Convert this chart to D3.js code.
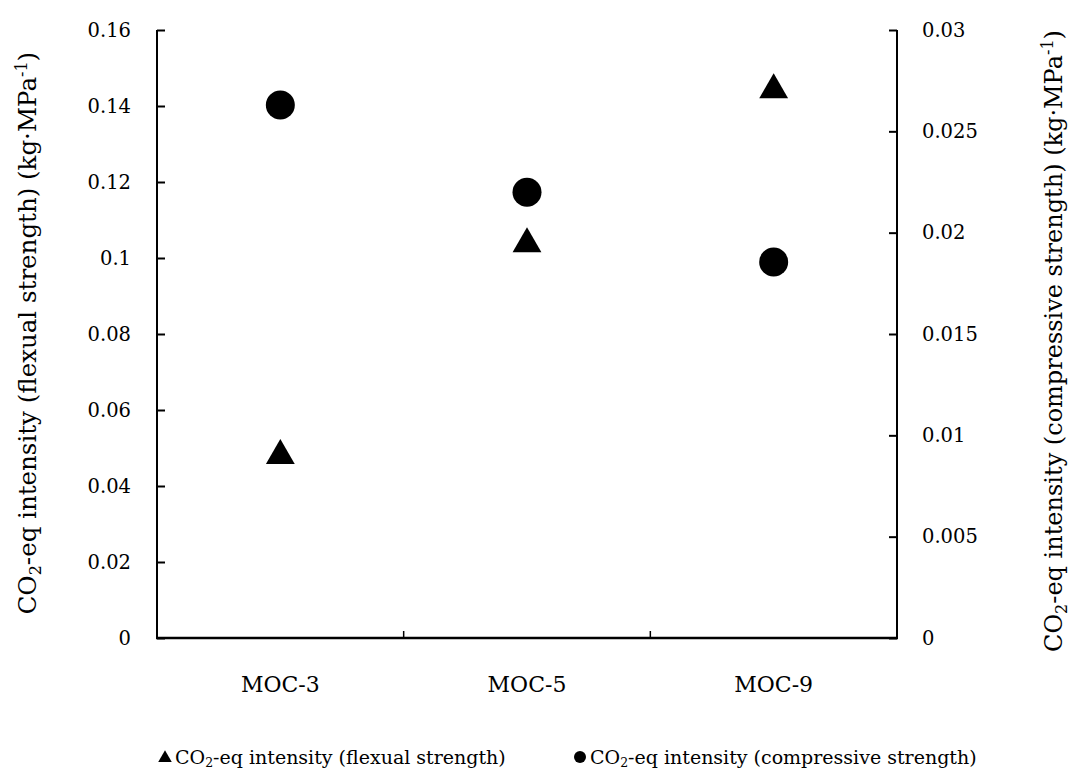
<!DOCTYPE html>
<html>
<head>
<meta charset="utf-8">
<script src="https://cdn.jsdelivr.net/npm/d3@7"></script>
<style>
  html, body { margin: 0; padding: 0; background: #fff; }
  text { font-family: "DejaVu Serif", "Liberation Serif", serif; fill: #000; }
</style>
</head>
<body>
<svg id="chart" width="1070" height="772"></svg>
<script>
// Mix designs on the x axis
const categories = ["MOC-3", "MOC-5", "MOC-9"];
// CO2-eq intensity per unit flexural strength (left axis)
const flexural = [0.0488, 0.1045, 0.145];
// CO2-eq intensity per unit compressive strength (right axis)
const compressive = [0.0263, 0.0220, 0.01855];
// Axis ticks
const leftTicks = [0, 0.02, 0.04, 0.06, 0.08, 0.1, 0.12, 0.14, 0.16];
const rightTicks = [0, 0.005, 0.01, 0.015, 0.02, 0.025, 0.03];

const svg = d3.select("#chart");
const m = { left: 157, right: 897, top: 30, bottom: 638 };
const tickFont = 19.5;

const x = d3.scaleBand().domain(categories).range([m.left, m.right]).paddingInner(0).paddingOuter(0);
const yL = d3.scaleLinear().domain([0, 0.16]).range([m.bottom, m.top]);
const yR = d3.scaleLinear().domain([0, 0.03]).range([m.bottom, m.top]);
const cx = d => x(d) + x.bandwidth() / 2;
const fmt = d => String(+d.toFixed(3));

// Left axis: ticks pointing into the plot
const gL = svg.append("g").attr("transform", `translate(${m.left},0)`)
  .call(d3.axisRight(yL).tickValues(leftTicks).tickSize(8).tickPadding(0).tickFormat(fmt));
gL.select(".domain").remove();
gL.selectAll(".tick line").attr("stroke", "#000").attr("stroke-width", 2);
gL.selectAll(".tick text").attr("x", -26).attr("text-anchor", "end")
  .style("font-size", tickFont + "px").style("font-family", "DejaVu Serif");

// Right axis: ticks pointing into the plot
const gR = svg.append("g").attr("transform", `translate(${m.right},0)`)
  .call(d3.axisLeft(yR).tickValues(rightTicks).tickSize(8).tickPadding(0).tickFormat(fmt));
gR.select(".domain").remove();
gR.selectAll(".tick line").attr("stroke", "#000").attr("stroke-width", 2);
gR.selectAll(".tick text").attr("x", 25).attr("text-anchor", "start")
  .style("font-size", tickFont + "px").style("font-family", "DejaVu Serif");

// Bottom axis: category boundaries marked with short inward ticks
const bounds = categories.slice(1).map(c => x(c));
svg.append("g").selectAll("line").data(bounds).join("line")
  .attr("x1", d => d).attr("x2", d => d)
  .attr("y1", m.bottom).attr("y2", m.bottom - 7)
  .attr("stroke", "#000").attr("stroke-width", 1.5);
svg.append("g").selectAll("text").data(categories).join("text")
  .attr("x", d => cx(d)).attr("y", 692)
  .attr("text-anchor", "middle").style("font-size", "22px").text(d => d);

// Axis lines
svg.append("line").attr("x1", m.left).attr("x2", m.left).attr("y1", m.top).attr("y2", m.bottom + 1)
  .attr("stroke", "#000").attr("stroke-width", 2);
svg.append("line").attr("x1", m.right).attr("x2", m.right).attr("y1", m.top).attr("y2", m.bottom + 1)
  .attr("stroke", "#000").attr("stroke-width", 2);
svg.append("line").attr("x1", m.left - 1).attr("x2", m.right + 1).attr("y1", m.bottom).attr("y2", m.bottom)
  .attr("stroke", "#000").attr("stroke-width", 2.5);

// Markers
const tri = d3.symbol().type(d3.symbolTriangle).size(360);
svg.append("g").selectAll("path").data(categories).join("path")
  .attr("d", tri)
  .attr("transform", (d, i) => `translate(${cx(d)},${yL(flexural[i]) + 3})`)
  .attr("fill", "#000");
svg.append("g").selectAll("circle").data(categories).join("circle")
  .attr("cx", d => cx(d)).attr("cy", (d, i) => yR(compressive[i]))
  .attr("r", 14.5).attr("fill", "#000");

// Axis titles with subscript/superscript
function title(g, main, size) {
  const t = g.append("text").attr("text-anchor", "middle").style("font-size", size + "px");
  t.append("tspan").text("CO");
  t.append("tspan").attr("dy", 5).style("font-size", "16px").text("2");
  t.append("tspan").attr("dy", -5).text(`-eq intensity (${main}) (kg·MPa`);
  t.append("tspan").attr("dy", -9).style("font-size", "16px").text("-1");
  t.append("tspan").attr("dy", 9).text(")");
  return t;
}
title(svg.append("g").attr("transform", "translate(36,333) rotate(-90)"), "flexual strength", 24.5);
title(svg.append("g").attr("transform", "translate(1062,341) rotate(-90)"), "compressive strength", 24);

// Legend
const legend = [
  { shape: "triangle", label: "flexual strength", x: 165 },
  { shape: "circle", label: "compressive strength", x: 580 }
];
const lg = svg.append("g");
legend.forEach(l => {
  if (l.shape === "triangle") {
    lg.append("path").attr("d", d3.symbol().type(d3.symbolTriangle).size(80)())
      .attr("transform", `translate(${l.x},758)`).attr("fill", "#000");
  } else {
    lg.append("circle").attr("cx", l.x).attr("cy", 757).attr("r", 6).attr("fill", "#000");
  }
  const t = lg.append("text").attr("x", l.x + 10).attr("y", 764).style("font-size", "19px");
  t.append("tspan").text("CO");
  t.append("tspan").attr("dy", 3).style("font-size", "12.5px").text("2");
  t.append("tspan").attr("dy", -3).text(`-eq intensity (${l.label})`);
});
</script>
</body>
</html>
